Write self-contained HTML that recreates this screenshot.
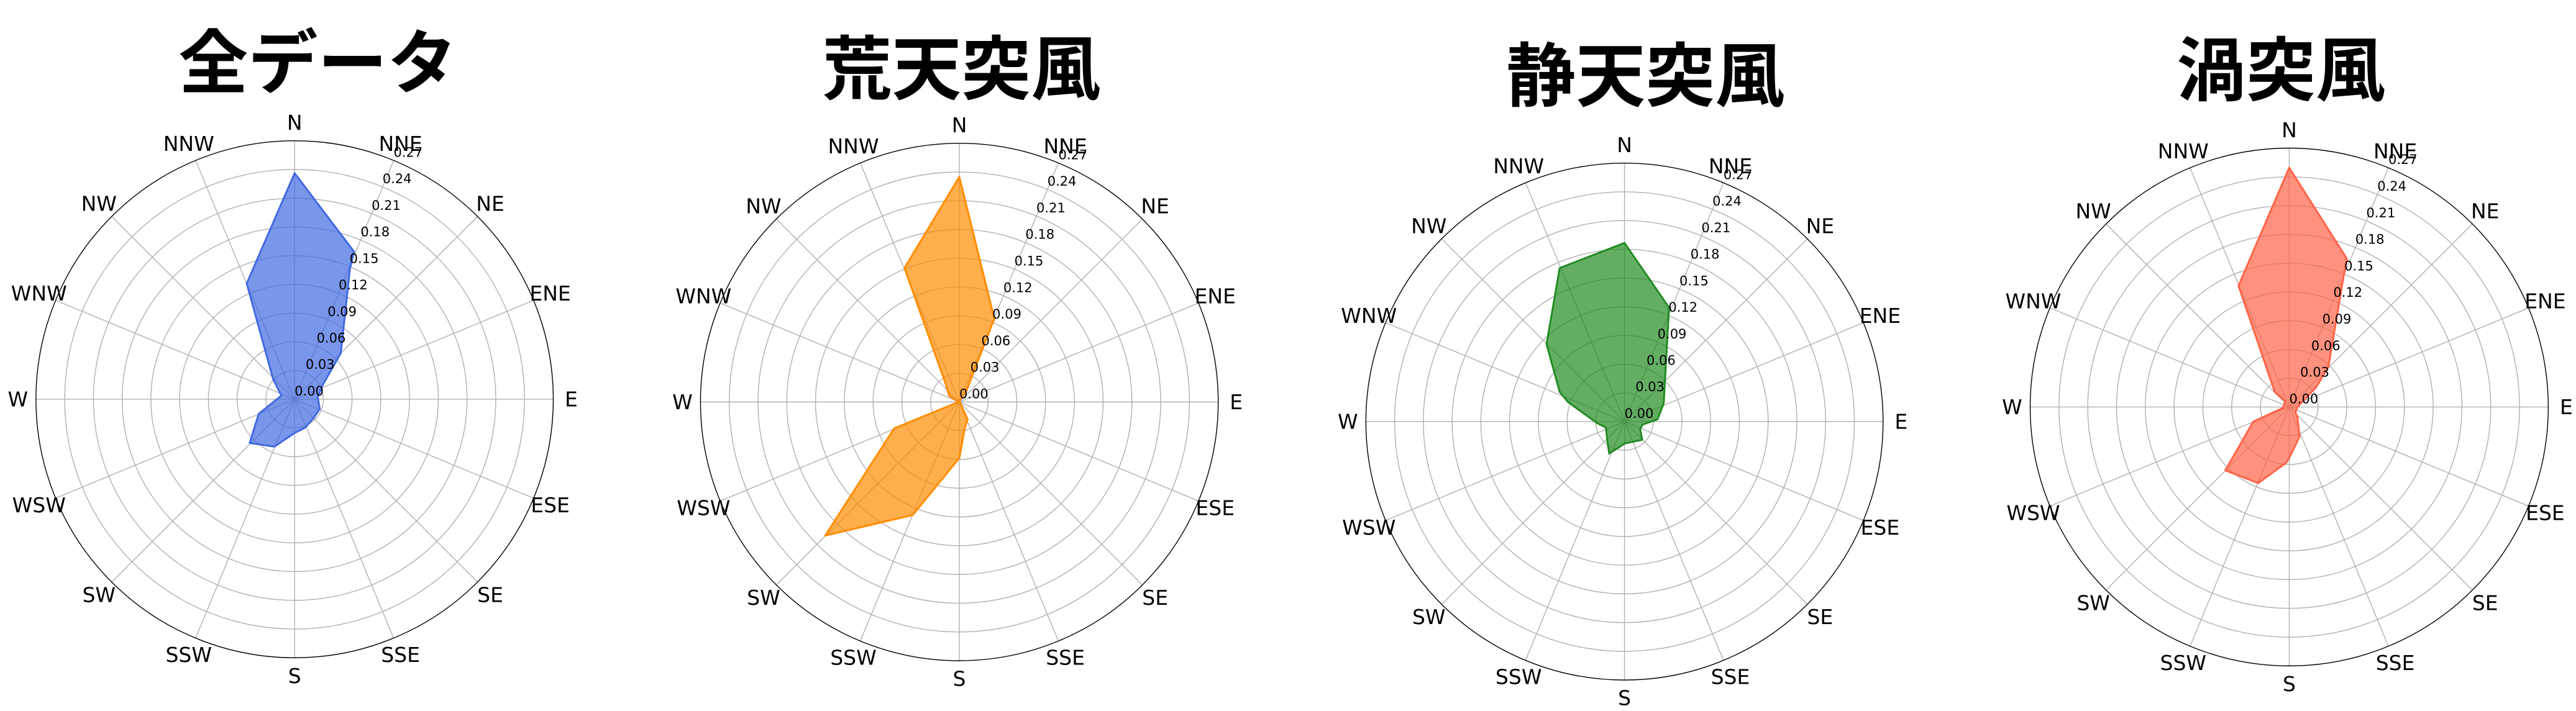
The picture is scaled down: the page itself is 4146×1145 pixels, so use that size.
<!DOCTYPE html>
<html><head><meta charset="utf-8"><style>html,body{margin:0;padding:0;background:#fff;width:4146px;height:1145px;overflow:hidden}</style></head>
<body>
<svg id="s" xmlns="http://www.w3.org/2000/svg" width="4146" height="1145" viewBox="0 0 4146 1145"></svg>
<script>
const SX=1036/1560, SY=1145/1560;
const panels=[
 {ox:0,cx:714,cy:876,rx:626,ry:568,title:"全データ",tx:770,ty:127,fill:"#4169e1",
  pts:[[714,380],[858,552],[848,590],[826,775],[782,845],[770,872],[775,897],[762,915],[740,938],[714,950],[665,980],[605,972],[627,908],[682,868],[662,832],[598,622]]},
 {ox:1036,cx:765,cy:882,rx:627,ry:568,title:"荒天突風",tx:770,ty:140,fill:"#ff8c00",
  pts:[[765,388],[850,700],[845,710],[782,858],[765,880],[785,920],[778,940],[765,1005],[652,1130],[440,1175],[607,940],[763,882],[740,868],[733,845],[632,588]]},
 {ox:2072,cx:817,cy:925,rx:629,ry:565,title:"静天突風",tx:868,ty:155,fill:"#228b22",
  pts:[[817,533],[925,675],[912,885],[897,920],[860,932],[855,942],[860,965],[818,973],[780,995],[775,965],[772,938],[750,928],[680,882],[660,860],[628,755],[660,588]]},
 {ox:3110,cx:865,cy:893,rx:629,ry:567,title:"渦突風",tx:845,ty:143,fill:"#ff6347",
  pts:[[865,368],[1005,568],[998,600],[960,805],[930,850],[885,893],[880,905],[885,915],[890,958],[865,1005],[858,1015],[790,1060],[710,1032],[778,925],[850,895],[855,880],[830,860],[742,627]]}
];
const dirs=["N","NNE","NE","ENE","E","ESE","SE","SSE","S","SSW","SW","WSW","W","WNW","NW","NNW"];
let h="";
for(const p of panels){
 const X=x=>(p.ox+x*SX).toFixed(1), Y=y=>(y*SY).toFixed(1);
 const cx=p.cx*SX+p.ox, cy=p.cy*SY, R=(p.rx*SX+p.ry*SY)/2;
 h+=`<g font-family="'DejaVu Sans','Liberation Sans',sans-serif">`;
 h+=`<text x="${X(p.tx)}" y="${Y(p.ty)}" text-anchor="middle" dominant-baseline="central" font-family="'Noto Sans CJK JP',sans-serif" font-weight="bold" font-size="112">${p.title}</text>`;
 for(let k=1;k<9;k++) h+=`<circle cx="${cx}" cy="${cy}" r="${R*k/9}" fill="none" stroke="#b0b0b0" stroke-width="1.4"/>`;
 for(let i=0;i<16;i++){const a=i*Math.PI/8;
  h+=`<line x1="${cx}" y1="${cy}" x2="${cx+R*Math.sin(a)}" y2="${cy-R*Math.cos(a)}" stroke="#b0b0b0" stroke-width="1.4"/>`;}
 h+=`<polygon points="${p.pts.map(q=>X(q[0])+','+Y(q[1])).join(' ')}" fill="${p.fill}" fill-opacity="0.7" stroke="${p.fill}" stroke-width="3" stroke-linejoin="round"/>`;
 h+=`<circle cx="${cx}" cy="${cy}" r="${R}" fill="none" stroke="#000" stroke-width="1.4"/>`;
 for(let i=0;i<16;i++){const a=i*Math.PI/8;
  const x=cx+(R+29)*Math.sin(a), y=cy-(R+29)*Math.cos(a);
  h+=`<text x="${x}" y="${y}" text-anchor="middle" dominant-baseline="central" font-size="33">${dirs[i]}</text>`;}
 const sa=Math.sin(Math.PI/8),ca=Math.cos(Math.PI/8);
 for(let k=0;k<=9;k++){const x=cx+R*k/9*sa,y=cy-R*k/9*ca-13;
  h+=`<text x="${x}" y="${y}" dominant-baseline="central" font-size="21">${(k*0.03).toFixed(2)}</text>`;}
 h+=`</g>`;
}
document.getElementById('s').innerHTML=h;
</script>
</body></html>
